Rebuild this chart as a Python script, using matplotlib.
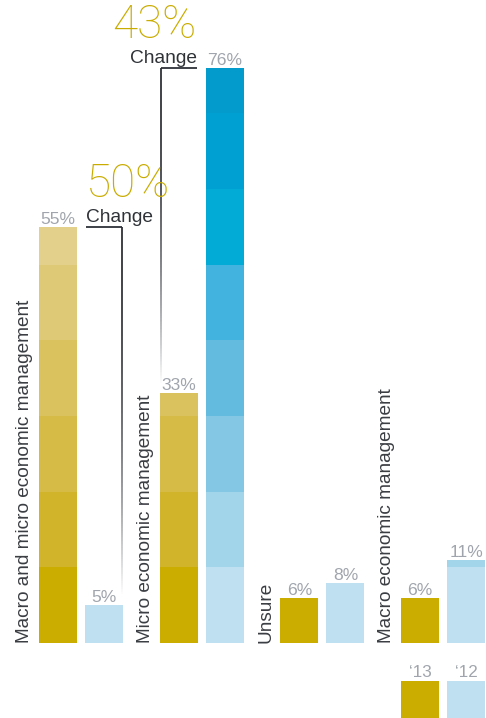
import numpy as np
import matplotlib
matplotlib.use("Agg")
import matplotlib.pyplot as plt
from matplotlib.collections import LineCollection
from matplotlib.colors import to_rgba

plt.rcParams["font.family"] = ["Liberation Sans", "DejaVu Sans"]
LIGHT = dict(family=["Roboto", "Liberation Sans"], fontweight="light")

# ---- data -------------------------------------------------------------
categories = [
    "Macro and micro economic management",
    "Micro economic management",
    "Unsure",
    "Macro economic management",
]
share_2013 = [55, 33, 6, 6]
share_2012 = [5, 76, 8, 11]
year_labels = ["\u201813", "\u201812"]

# shades for each 10-point band, bottom to top
gold_bands = ["#CBAD00", "#D2B42A", "#D6BC46", "#DAC25E", "#DECA76", "#E3D18B"]
blue_bands = ["#BEE0F0", "#A2D4EA", "#84C7E4", "#64BBE0", "#42B2DE",
              "#02AAD6", "#00A1D2", "#039ACC"]

GOLD = "#C9AC00"
GREY_TXT = "#A0A5AD"
DARK_TXT = "#2F3338"
LINE = "#2E3238"

# ---- layout -----------------------------------------------------------
fig = plt.figure(figsize=(4.86, 7.18), dpi=100)
ax = fig.add_axes([0, 0, 1, 1])
ax.set_xlim(0, 486)
ax.set_ylim(-9.9, 85.0)
ax.axis("off")

bar_w = 38
gold_x = 58 + 120.7 * np.arange(len(categories))
blue_x = gold_x + 46


def banded_bar(x, value, bands):
    """Stack 10-point bands so the shade shifts with height."""
    n = int(np.ceil(value / 10))
    for k in range(n):
        lo = 10 * k
        h = min(10, value - lo)
        ax.bar(x, h, bottom=lo, width=bar_w, color=bands[k], linewidth=0)


def value_label(x, v):
    ax.annotate(f"{v}%", (x, v), xytext=(0, 3), textcoords="offset pixels",
                ha="center", va="baseline", fontsize=12.6, color=GREY_TXT)


for i, cat in enumerate(categories):
    banded_bar(gold_x[i], share_2013[i], gold_bands)
    banded_bar(blue_x[i], share_2012[i], blue_bands)
    value_label(gold_x[i], share_2013[i])
    value_label(blue_x[i], share_2012[i])
    ax.annotate(cat, (gold_x[i] - bar_w / 2, 0), xytext=(-6, 0),
                textcoords="offset pixels", rotation=90, ha="right",
                va="bottom", fontsize=13.7, color="#3A3D42")


def fading_vline(x, y_top, y_bot):
    ys = np.linspace(y_top, y_bot, 200)
    segs = [[(x, ys[j]), (x, ys[j + 1])] for j in range(len(ys) - 1)]
    t = np.linspace(0, 1, len(segs))
    alpha = np.clip(1 - t ** 2.2, 0, 1)
    base = np.array(to_rgba(LINE))
    cols = np.tile(base, (len(segs), 1))
    cols[:, 3] = alpha
    ax.add_collection(LineCollection(segs, colors=cols, linewidths=1.3,
                                     capstyle="butt"))


def change_bracket(col_x, high, low, side):
    """Horizontal tick over column col_x at `high`, then a fading drop
    on the `side` edge down toward `low`; label with the difference."""
    left, right = col_x - bar_w / 2 + 1, col_x + bar_w / 2 - 1
    ax.plot([left, right], [high, high], color=LINE, lw=1.3,
            solid_capstyle="butt")
    drop_x = right if side == "right" else left
    fading_vline(drop_x, high, low + 1.2)
    if side == "right":
        anchor, ha = left, "left"
    else:
        anchor, ha = right, "right"
    ax.annotate("Change", (anchor, high), xytext=(0, 5),
                textcoords="offset pixels", ha=ha, va="baseline",
                fontsize=13.8, color=DARK_TXT)
    ax.annotate(f"{high - low}%", (anchor, high), xytext=(0, 30),
                textcoords="offset pixels", ha=ha, va="baseline",
                fontsize=33, color=GOLD, **LIGHT)


# group 1: drop from the 2013 height over the 2012 bar
change_bracket(blue_x[0], share_2013[0], share_2012[0], side="right")
# group 2: drop from the 2012 height over the 2013 bar
change_bracket(gold_x[1], share_2012[1], share_2013[1], side="left")

# ---- legend -----------------------------------------------------------
lg = fig.add_axes([401 / 486, 0, 85 / 486, 37 / 718])
lg.bar([0, 1], [1, 1], width=bar_w / 46, color=[gold_bands[0], blue_bands[0]],
       linewidth=0)
lg.set_xlim(-bar_w / 92, 1 + bar_w / 92 + 1 / 46)
lg.set_ylim(0, 1)
lg.axis("off")
for j, lab in enumerate(year_labels):
    lg.annotate(lab, (j, 1), xytext=(0, 4), textcoords="offset pixels",
                ha="center", va="baseline", fontsize=12.3, color=GREY_TXT,
                annotation_clip=False)

fig.savefig("out.png", dpi=100)
